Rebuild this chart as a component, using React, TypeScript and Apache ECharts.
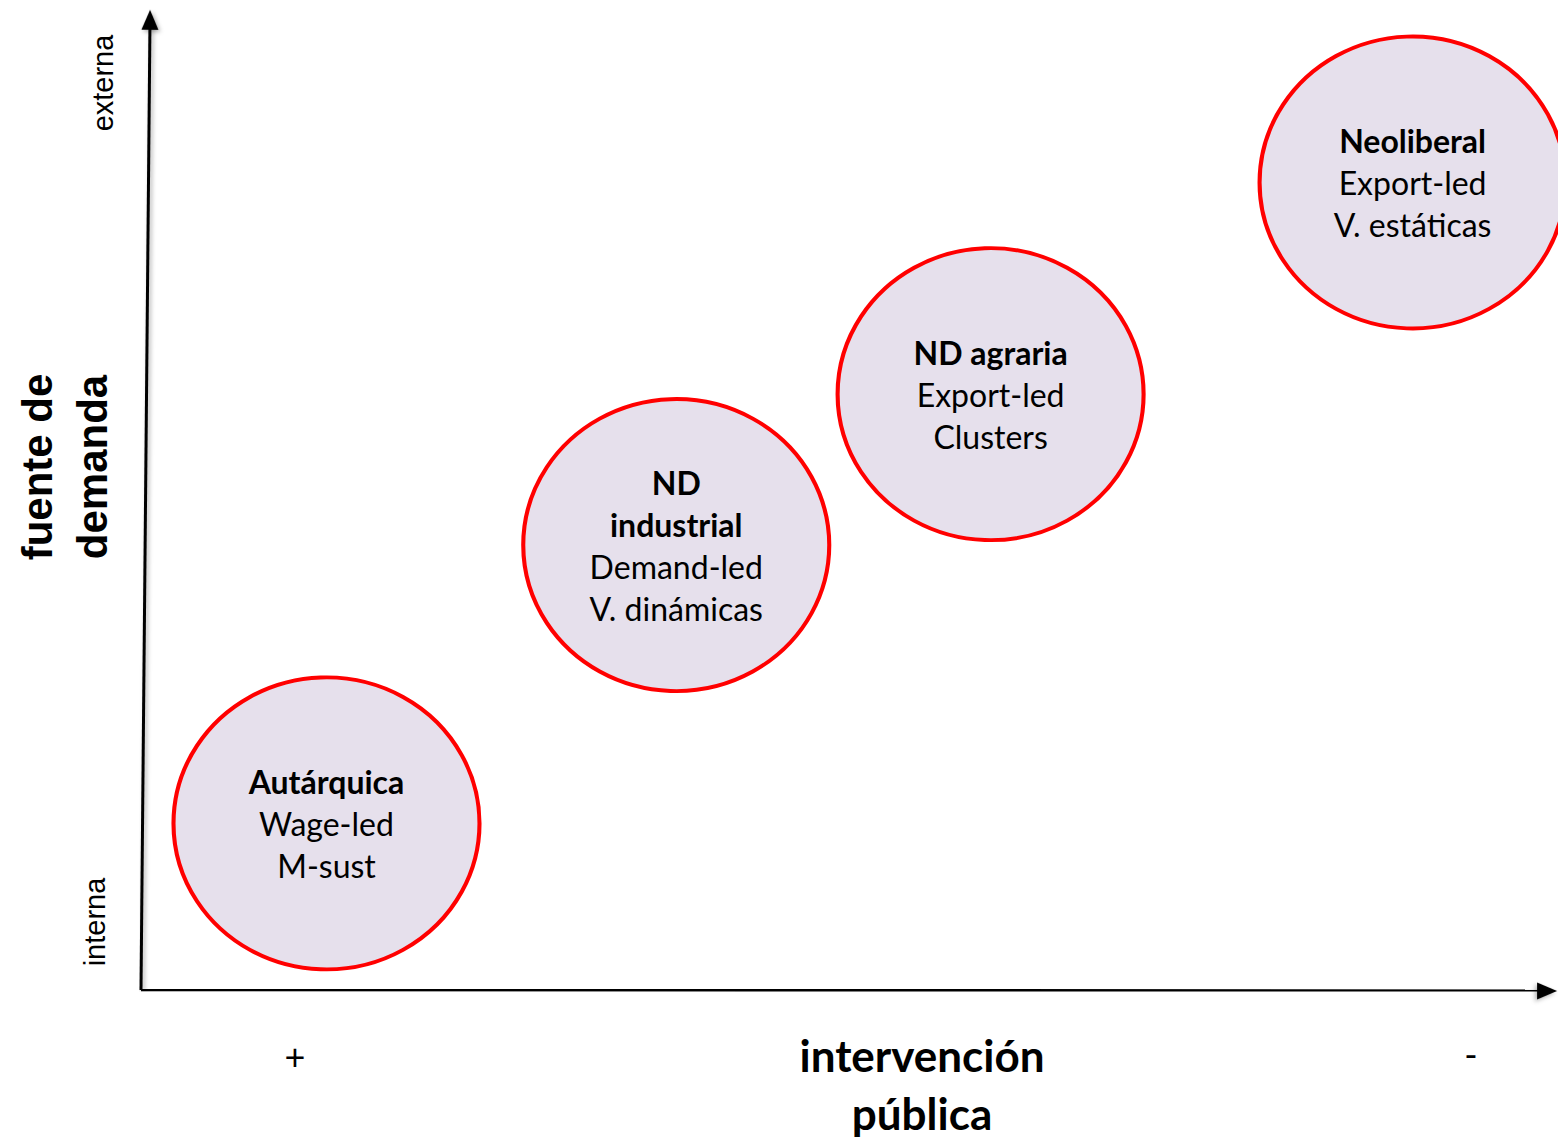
import React, { useEffect, useRef } from "react";
import * as echarts from "echarts";

const regimeNames = ["Autárquica", "ND\nindustrial", "ND agraria", "Neoliberal"];
const regimeDemand = ["Wage-led", "Demand-led", "Export-led", "Export-led"];
const regimeVariable = ["M-sust", "V. dinámicas", "Clusters", "V. estáticas"];
const interventionX = [1.31, 3.78, 6.0, 8.98];
const demandY = [1.7, 4.54, 6.08, 8.24];
const yTickLabels = ["interna", "externa"];
const xTickLabels = ["+", "-"];
const yAxisTitle = "fuente de\ndemanda";
const xAxisTitle = "intervención\npública";
const yAxisEnd = [0.0636, 9.9];
const xAxisEnd = [9.93, -0.01];

export default function App() {
  const ref = useRef<HTMLDivElement>(null);
  useEffect(() => {
    if (!ref.current) return;
    const chart = echarts.init(ref.current, undefined, { renderer: "svg" });
    const data = interventionX.map((x, i) => ({
      value: [x, demandY[i]],
      name: regimeNames[i],
    }));
    const labelFont = "Lato, 'Open Sans', sans-serif";
    const shadow = {
      shadowBlur: 4,
      shadowColor: "rgba(0,0,0,0.3)",
      shadowOffsetX: 2,
      shadowOffsetY: 2,
    };
    chart.setOption({
      animation: false,
      backgroundColor: "#ffffff",
      grid: { left: 141, right: 1, top: 10, bottom: 150 },
      xAxis: { type: "value", min: 0, max: 10, show: false },
      yAxis: { type: "value", min: 0, max: 10, show: false },
      series: [
        {
          type: "lines",
          coordinateSystem: "cartesian2d",
          polyline: false,
          symbol: "none",
          z: 1,
          lineStyle: { color: "#000", width: 3, opacity: 1, curveness: 0, ...shadow },
          data: [
            { coords: [[0, 0], yAxisEnd] },
            { coords: [[0, 0], xAxisEnd] },
          ],
        },
        {
          type: "scatter",
          symbol: "triangle",
          clip: false,
          z: 1,
          silent: true,
          itemStyle: { color: "#000", opacity: 1, ...shadow },
          data: [
            { value: yAxisEnd, symbolSize: [17, 20], symbolRotate: -0.5 },
            { value: xAxisEnd, symbolSize: [17, 20], symbolRotate: -90 },
          ],
        },
        {
          type: "scatter",
          symbol: "circle",
          symbolSize: [306, 292],
          clip: false,
          z: 2,
          itemStyle: { color: "#E6E0EC", borderColor: "#FF0000", borderWidth: 4, opacity: 1 },
          label: {
            show: true,
            position: "inside",
            formatter: (p: any) => {
              const i = p.dataIndex;
              const nameLines = regimeNames[i]
                .split("\n")
                .map((s) => `{b|${s}}`)
                .join("\n");
              return `${nameLines}\n{n|${regimeDemand[i]}}\n{n|${regimeVariable[i]}}`;
            },
            rich: {
              b: { fontFamily: labelFont, fontWeight: "bold", fontSize: 32, lineHeight: 42, color: "#000" },
              n: { fontFamily: labelFont, fontSize: 32, lineHeight: 42, color: "#000" },
            },
          },
          data,
        },
      ],
      graphic: [
        {
          type: "text",
          x: 103,
          y: 83,
          rotation: Math.PI / 2,
          style: {
            text: yTickLabels[1],
            fontFamily: "'Liberation Sans', Arial, sans-serif",
            fontSize: 29,
            fill: "#000",
            textAlign: "center",
            textVerticalAlign: "middle",
          },
        },
        {
          type: "text",
          x: 95,
          y: 922,
          rotation: Math.PI / 2,
          style: {
            text: yTickLabels[0],
            fontFamily: "'Liberation Sans', Arial, sans-serif",
            fontSize: 29,
            fill: "#000",
            textAlign: "center",
            textVerticalAlign: "middle",
          },
        },
        {
          type: "text",
          x: 65,
          y: 467,
          rotation: Math.PI / 2,
          style: {
            text: yAxisTitle,
            fontFamily: "'Liberation Sans', Arial, sans-serif",
            fontWeight: "bold",
            fontSize: 42,
            lineHeight: 55,
            fill: "#000",
            textAlign: "center",
            textVerticalAlign: "middle",
          },
        },
        {
          type: "text",
          x: 295,
          y: 1056,
          style: {
            text: xTickLabels[0],
            fontFamily: labelFont,
            fontSize: 36,
            fill: "#000",
            textAlign: "center",
            textVerticalAlign: "middle",
          },
        },
        {
          type: "text",
          x: 1471,
          y: 1054,
          style: {
            text: xTickLabels[1],
            fontFamily: labelFont,
            fontSize: 36,
            fill: "#000",
            textAlign: "center",
            textVerticalAlign: "middle",
          },
        },
        {
          type: "text",
          x: 922,
          y: 1084,
          style: {
            text: xAxisTitle,
            fontFamily: labelFont,
            fontWeight: "bold",
            fontSize: 44,
            lineHeight: 58,
            fill: "#000",
            textAlign: "center",
            textVerticalAlign: "middle",
          },
        },
      ],
    });
    return () => chart.dispose();
  }, []);
  return <div ref={ref} style={{ width: 1558, height: 1140, position: "absolute", left: 0, top: 0 }} />;
}
